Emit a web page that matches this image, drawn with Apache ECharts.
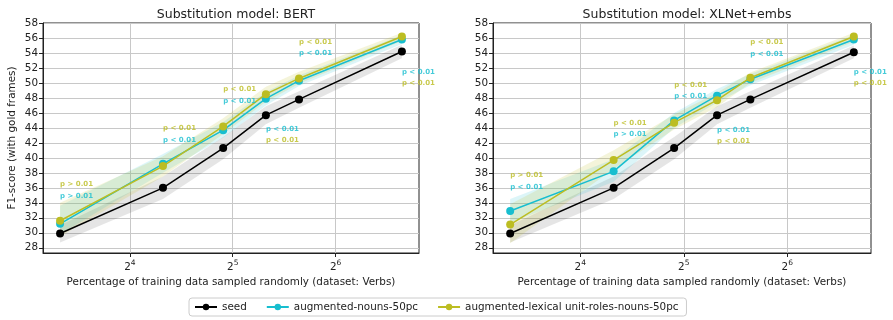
<!DOCTYPE html>
<html>
<head>
<meta charset="utf-8">
<script src="https://cdn.jsdelivr.net/npm/echarts@6/dist/echarts.min.js"></script>
<style>
  html, body { margin: 0; padding: 0; background: #fff; }
  #chart { width: 893px; height: 320px; }
</style>
</head>
<body>
<div id="chart"></div>
<script>
// training data percentage (x, log base 2)
const xValues = [10, 20, 30, 40, 50, 100];

// tick positions
const xTicks = [16, 32, 64];
const yTicks = [28, 30, 32, 34, 36, 38, 40, 42, 44, 46, 48, 50, 52, 54, 56, 58];

// BERT panel
const bertSeed = [29.9, 36.0, 41.3, 45.7, 47.8, 54.2];
const bertNouns = [31.2, 39.2, 43.7, 47.9, 50.3, 55.8];
const bertLex = [31.6, 38.9, 44.2, 48.5, 50.6, 56.2];
const bertSeedLo = [28.7, 34.5, 39.8, 44.5, 46.7, 53.3];
const bertSeedHi = [31.0, 37.5, 42.8, 46.9, 48.9, 55.1];
const bertNounsLo = [29.8, 38.0, 42.7, 47.0, 49.6, 55.2];
const bertNounsHi = [33.6, 40.5, 44.8, 48.8, 51.0, 56.4];
const bertLexLo = [29.5, 37.5, 43.2, 47.5, 49.9, 55.6];
const bertLexHi = [34.0, 40.2, 45.3, 49.5, 51.5, 56.7];

// XLNet+embs panel
const xlSeed = [29.9, 36.0, 41.3, 45.7, 47.8, 54.1];
const xlNouns = [32.9, 38.2, 45.0, 48.3, 50.5, 55.8];
const xlLex = [31.1, 39.7, 44.7, 47.7, 50.7, 56.2];
const xlSeedLo = [28.7, 34.5, 39.8, 44.5, 46.7, 53.3];
const xlSeedHi = [31.0, 37.5, 42.8, 46.9, 48.9, 55.0];
const xlNounsLo = [31.3, 36.8, 44.0, 47.4, 49.7, 55.1];
const xlNounsHi = [34.5, 39.8, 46.0, 49.2, 51.2, 56.4];
const xlLexLo = [28.6, 38.5, 43.8, 46.8, 50.0, 55.5];
const xlLexHi = [33.8, 41.0, 45.8, 48.7, 51.4, 56.7];

// significance notes: [x, y, text]
const bertNounsNotes = [[10, 34.9, 'p > 0.01'], [20, 42.4, 'p < 0.01'], [30, 47.6, 'p < 0.01'], [40, 43.8, 'p < 0.01'], [50, 54.0, 'p < 0.01'], [100, 51.5, 'p < 0.01']];
const bertLexNotes = [[10, 36.5, 'p > 0.01'], [20, 44.0, 'p < 0.01'], [30, 49.1, 'p < 0.01'], [40, 42.3, 'p < 0.01'], [50, 55.5, 'p < 0.01'], [100, 50.0, 'p < 0.01']];
const xlNounsNotes = [[10, 36.1, 'p < 0.01'], [20, 43.1, 'p > 0.01'], [30, 48.2, 'p < 0.01'], [40, 43.7, 'p < 0.01'], [50, 53.9, 'p < 0.01'], [100, 51.5, 'p < 0.01']];
const xlLexNotes = [[10, 37.7, 'p > 0.01'], [20, 44.6, 'p < 0.01'], [30, 49.7, 'p < 0.01'], [40, 42.2, 'p < 0.01'], [50, 55.5, 'p < 0.01'], [100, 50.0, 'p < 0.01']];

const titles = ['Substitution model: BERT', 'Substitution model: XLNet+embs'];
const seriesNames = ['seed', 'augmented-nouns-50pc', 'augmented-lexical unit-roles-nouns-50pc'];
const colors = ['#000000', '#17becf', '#bcbd22'];
const bandColors = ['rgba(0,0,0,0.1)', 'rgba(23,190,207,0.15)', 'rgba(188,189,34,0.17)'];

const font = 'DejaVu Sans';
const fs = 10.4;
const grids = [
  { left: 43, top: 23, width: 376, height: 230 },
  { left: 493, top: 23, width: 378, height: 230 }
];

function zip(a) {
  return xValues.map((x, i) => [x, a[i]]);
}

function bandSeries(gi, lo, hi, color) {
  return {
    type: 'custom',
    xAxisIndex: gi,
    yAxisIndex: gi,
    silent: true,
    z: 1,
    encode: { x: 0, y: [1, 2] },
    data: xValues.map((x, i) => [x, lo[i], hi[i]]),
    renderItem(params, api) {
      const i = params.dataIndexInside;
      if (i >= params.dataInsideLength - 1) return null;
      const pts = [
        api.coord([api.value(0, i), api.value(1, i)]),
        api.coord([api.value(0, i + 1), api.value(1, i + 1)]),
        api.coord([api.value(0, i + 1), api.value(2, i + 1)]),
        api.coord([api.value(0, i), api.value(2, i)])
      ];
      return { type: 'polygon', shape: { points: pts }, style: { fill: color } };
    }
  };
}

function lineSeries(gi, k, values) {
  return {
    type: 'line',
    name: seriesNames[k],
    xAxisIndex: gi,
    yAxisIndex: gi,
    data: zip(values),
    symbol: 'circle',
    symbolSize: 8,
    z: 3 + k,
    color: colors[k],
    lineStyle: { width: 1.5, color: colors[k] },
    itemStyle: { color: colors[k] },
    emphasis: { disabled: true }
  };
}

function noteSeries(gi, notes, color) {
  return {
    type: 'scatter',
    xAxisIndex: gi,
    yAxisIndex: gi,
    symbolSize: 0,
    silent: true,
    z: 10,
    data: notes,
    label: {
      show: true,
      position: 'right',
      distance: 0,
      formatter: p => p.value[2],
      color: color,
      fontFamily: font,
      fontWeight: 'bold',
      fontSize: 7
    }
  };
}

const panels = [
  { seed: bertSeed, nouns: bertNouns, lex: bertLex, bands: [[bertSeedLo, bertSeedHi], [bertNounsLo, bertNounsHi], [bertLexLo, bertLexHi]], notes: [bertNounsNotes, bertLexNotes] },
  { seed: xlSeed, nouns: xlNouns, lex: xlLex, bands: [[xlSeedLo, xlSeedHi], [xlNounsLo, xlNounsHi], [xlLexLo, xlLexHi]], notes: [xlNounsNotes, xlLexNotes] }
];

const series = [];
panels.forEach((p, gi) => {
  p.bands.forEach((b, k) => series.push(bandSeries(gi, b[0], b[1], bandColors[k])));
  series.push(lineSeries(gi, 0, p.seed));
  series.push(lineSeries(gi, 1, p.nouns));
  series.push(lineSeries(gi, 2, p.lex));
  series.push(noteSeries(gi, p.notes[0], colors[1]));
  series.push(noteSeries(gi, p.notes[1], colors[2]));
});

const chart = echarts.init(document.getElementById('chart'), null, { renderer: 'canvas' });

chart.setOption({
  backgroundColor: '#fff',
  animation: false,
  textStyle: { fontFamily: font },
  title: titles.map((t, i) => ({
    text: t,
    left: grids[i].left + grids[i].width / 2,
    top: 3,
    textAlign: 'center',
    textStyle: { fontFamily: font, fontSize: 12.5, fontWeight: 'normal', color: '#222' }
  })),
  legend: {
    data: seriesNames,
    left: 189,
    top: 298,
    padding: [4, 8, 4, 5],
    itemGap: 19,
    itemWidth: 22,
    itemHeight: 8,
    borderColor: '#cccccc',
    borderWidth: 1,
    borderRadius: 3,
    textStyle: { fontFamily: font, fontSize: fs, color: '#222' }
  },
  grid: grids.map(g => ({ ...g, show: true, borderColor: '#222', borderWidth: 1, backgroundColor: 'transparent' })),
  xAxis: grids.map((g, i) => ({
    type: 'log',
    logBase: 2,
    gridIndex: i,
    min: Math.pow(2, 3.156),
    max: Math.pow(2, 6.81),
    splitNumber: 4,
    name: 'Percentage of training data sampled randomly (dataset: Verbs)',
    nameLocation: 'middle',
    nameGap: 24,
    nameTextStyle: { fontFamily: font, fontSize: fs, color: '#222' },
    axisLine: { show: true, lineStyle: { color: '#222' } },
    axisTick: { show: true, length: 4, customValues: xTicks, lineStyle: { color: '#222' } },
    minorTick: { show: false },
    splitLine: { show: true, lineStyle: { color: '#c8c8c8', width: 1 } },
    axisLabel: {
      margin: 6,
      color: '#222',
      formatter: v => {
        const e = Math.log2(v);
        const r = Math.round(e);
        return Math.abs(e - r) < 1e-6 ? '{b|2}{s|' + r + '}' : '';
      },
      rich: {
        b: { fontFamily: font, fontSize: fs, color: '#222' },
        s: { fontFamily: font, fontSize: 7.5, color: '#222', padding: [0, 0, 8, 0] }
      }
    }
  })),
  yAxis: grids.map((g, i) => ({
    type: 'value',
    gridIndex: i,
    min: 27.3,
    max: 58,
    splitNumber: 15,
    minInterval: 2,
    maxInterval: 2,
    name: i === 0 ? 'F1-score (with gold frames)' : '',
    nameLocation: 'middle',
    nameGap: 26,
    nameTextStyle: { fontFamily: font, fontSize: fs, color: '#222' },
    axisLine: { show: true, lineStyle: { color: '#222' } },
    axisTick: { show: true, length: 4, customValues: yTicks, lineStyle: { color: '#222' } },
    splitLine: { show: true, lineStyle: { color: '#c8c8c8', width: 1 } },
    axisLabel: {
      margin: 5,
      fontFamily: font,
      fontSize: fs,
      color: '#222',
      formatter: v => (Math.abs(v % 2) < 1e-6 ? String(v) : '')
    }
  })),
  series: series
});
</script>
</body>
</html>
